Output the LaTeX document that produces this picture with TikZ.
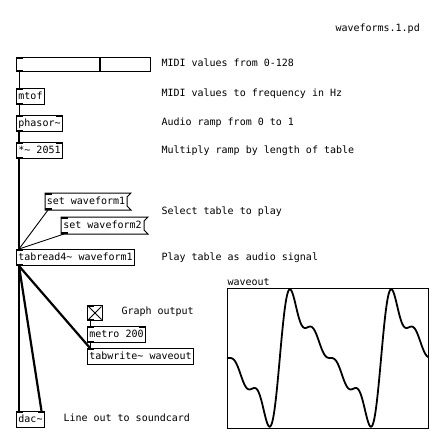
\documentclass[tikz,border=0pt]{standalone}
\usepackage{fontspec}
\newfontfamily\pdfont{DejaVu Sans Mono}
\newcommand\pdin[1]{\fill (#1.north west) rectangle ++(7,2);}
\newcommand\pdinr[1]{\fill (#1.north east) rectangle ++(-7,2);}
\newcommand\pdout[1]{\fill (#1.south west) rectangle ++(7,-2);}
\begin{document}
\begin{tikzpicture}[x=1pt,y=-1pt, line width=1pt,
  declare function={wf(\t)=sin(deg(\t))+sin(deg(2*\t))/2+sin(deg(3*\t))/3+sin(deg(4*\t))/4;},
  every node/.style={font=\pdfont\fontsize{10}{12}\selectfont},
  obj/.style={draw, anchor=north west, inner sep=0pt, minimum height=16pt, text height=7.5pt, text depth=2pt},
  msg/.style={obj, draw=none},
  lbl/.style={anchor=base west, inner sep=0pt},
  sig/.style={line width=2.2pt},
  ctl/.style={line width=0.9pt}]
\useasboundingbox (0,0) rectangle (444,441);
\fill[white] (0,0) rectangle (444,441);

% title
\node[lbl] (title) at (335,31.6) {waveforms.1.pd};

% objects
\node[obj, minimum width=134pt, minimum height=14pt] (slider) at (16,57) {};
\draw[line width=2.8pt] ([xshift=84pt]slider.north west) -- ([xshift=84pt]slider.south west);
\node[obj, minimum width=28pt] (mtof) at (16,88) {mtof};
\node[obj, minimum width=46pt] (phasor) at (16,115) {phasor\char`~};
\node[obj, minimum width=46pt] (mul) at (16,142) {*\char`~{} 2051};
\node[msg, minimum width=81pt] (m1) at (45,193) {set waveform1};
\node[msg, minimum width=82pt] (m2) at (61,217) {set waveform2};
\foreach \m in {m1,m2}{
  \draw (\m.north west) -- ([xshift=4pt]\m.north east) -- ([yshift=-4pt]\m.north east)
     -- ([yshift=4pt]\m.south east) -- ([xshift=4pt]\m.south east) -- (\m.south west) -- cycle;
}
\node[obj, minimum width=118pt] (tabread) at (16,249) {tabread4\char`~{} waveform1};
\node[obj, minimum width=15pt, minimum height=15pt] (tgl) at (87,305) {};
\draw ([shift={(1.5,1.5)}]tgl.north west) -- ([shift={(-1.5,-1.5)}]tgl.south east)
      ([shift={(-1.5,1.5)}]tgl.north east) -- ([shift={(1.5,-1.5)}]tgl.south west);
\node[obj, minimum width=58pt] (metro) at (87,326) {metro 200};
\node[obj, minimum width=106pt] (tabwrite) at (87,348) {tabwrite\char`~{} waveout};
\node[obj, minimum width=28pt] (dac) at (16,411) {dac\char`~};

% inlets / outlets
\pdin{slider}\pdout{slider}
\pdin{mtof}\pdout{mtof}
\pdin{phasor}\pdinr{phasor}\pdout{phasor}
\pdin{mul}\pdinr{mul}\pdout{mul}
\pdin{m1}\pdout{m1}
\pdin{m2}\pdout{m2}
\pdin{tabread}\pdout{tabread}
\pdin{tgl}\pdout{tgl}
\pdin{metro}\pdinr{metro}\pdout{metro}
\pdin{tabwrite}
\pdin{dac}\pdinr{dac}

% connections
\draw[ctl] ([xshift=3pt]slider.south west) -- ([xshift=3pt]mtof.north west);
\draw[ctl] ([xshift=3pt]mtof.south west) -- ([xshift=3pt]phasor.north west);
\draw[sig] ([xshift=3pt]phasor.south west) -- ([xshift=3pt]mul.north west);
\draw[sig] ([xshift=3pt]mul.south west) -- ([xshift=3pt]tabread.north west);
\draw[ctl] ([xshift=3pt]m1.south west) -- ([xshift=3pt]tabread.north west);
\draw[ctl] ([xshift=3pt]m2.south west) -- ([xshift=3pt]tabread.north west);
\draw[sig] ([xshift=3pt]tabread.south west) -- ([xshift=3pt]dac.north west);
\draw[sig] ([xshift=3pt]tabread.south west) -- ([xshift=-3.5pt]dac.north east);
\draw[sig] ([xshift=3pt]tabread.south west) -- ([xshift=3pt]tabwrite.north west);
\draw[ctl] ([xshift=3pt]tgl.south west) -- ([xshift=3pt]metro.north west);
\draw[ctl] ([xshift=3pt]metro.south west) -- ([xshift=3pt]tabwrite.north west);

% comments
\node[lbl] (c1) at (161,66.8) {MIDI values from 0-128};
\node[lbl] (c2) at (161,96.9) {MIDI values to frequency in Hz};
\node[lbl] (c3) at (161,125.3) {Audio ramp from 0 to 1};
\node[lbl] (c4) at (161,153.6) {Multiply ramp by length of table};
\node[lbl] (c5) at (161,214.3) {Select table to play};
\node[lbl] (c6) at (161,260.3) {Play table as audio signal};
\node[lbl] (c7) at (121,314.6) {Graph output};
\node[lbl] (c8) at (63,421.6) {Line out to soundcard};

% graph
\node[lbl] (glabel) at (227,285.3) {waveout};
\node[draw, anchor=north west, inner sep=0pt, minimum width=201pt, minimum height=140pt] (graph) at (227,288) {};
\draw[line width=1.8pt, line join=round]
  plot[domain=0:201, samples=400, variable=\u] ({227+\u}, {358-45*wf(3.008+0.06203*\u)});
\end{tikzpicture}
\end{document}
